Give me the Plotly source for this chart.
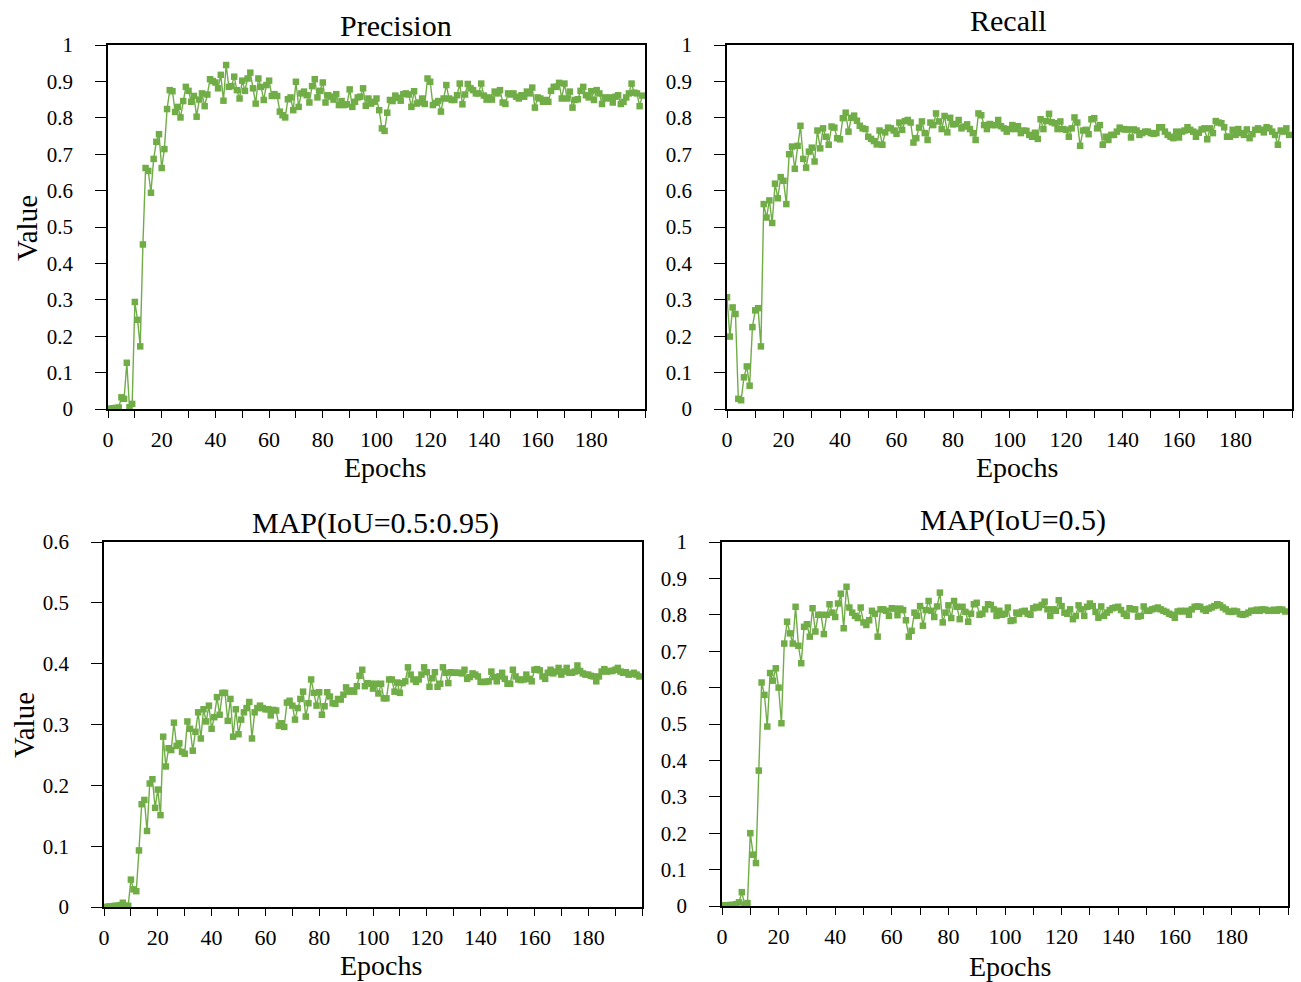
import plotly.graph_objects as go

epochs = list(range(200))

precision = [
    0.000, 0.001, 0.002, 0.003, 0.004, 0.032, 0.028, 0.127, 0.005, 0.014,
    0.294, 0.245, 0.172, 0.452, 0.662, 0.654, 0.594, 0.687, 0.734, 0.755,
    0.662, 0.714, 0.824, 0.876, 0.873, 0.816, 0.830, 0.801, 0.846, 0.885,
    0.874, 0.844, 0.860, 0.803, 0.850, 0.867, 0.832, 0.864, 0.906, 0.901,
    0.897, 0.881, 0.918, 0.847, 0.945, 0.885, 0.887, 0.913, 0.876, 0.853,
    0.902, 0.874, 0.908, 0.924, 0.881, 0.839, 0.908, 0.885, 0.849, 0.890,
    0.902, 0.860, 0.865, 0.860, 0.817, 0.807, 0.801, 0.851, 0.856, 0.821,
    0.899, 0.830, 0.867, 0.872, 0.862, 0.842, 0.887, 0.906, 0.856, 0.874,
    0.897, 0.842, 0.862, 0.858, 0.850, 0.865, 0.835, 0.846, 0.835, 0.837,
    0.878, 0.830, 0.844, 0.856, 0.858, 0.881, 0.833, 0.853, 0.839, 0.844,
    0.853, 0.821, 0.771, 0.764, 0.814, 0.849, 0.846, 0.861, 0.855, 0.847,
    0.865, 0.867, 0.864, 0.830, 0.873, 0.839, 0.842, 0.853, 0.838, 0.908,
    0.899, 0.835, 0.841, 0.846, 0.817, 0.853, 0.890, 0.853, 0.849, 0.849,
    0.862, 0.894, 0.837, 0.864, 0.893, 0.881, 0.876, 0.867, 0.867, 0.894,
    0.861, 0.850, 0.856, 0.850, 0.872, 0.867, 0.876, 0.842, 0.838, 0.867,
    0.864, 0.867, 0.858, 0.853, 0.862, 0.858, 0.872, 0.867, 0.883, 0.828,
    0.856, 0.853, 0.844, 0.849, 0.844, 0.874, 0.885, 0.885, 0.896, 0.853,
    0.894, 0.853, 0.872, 0.828, 0.849, 0.851, 0.874, 0.885, 0.862, 0.856,
    0.873, 0.849, 0.876, 0.867, 0.838, 0.856, 0.853, 0.856, 0.842, 0.858,
    0.862, 0.838, 0.844, 0.856, 0.867, 0.894, 0.869, 0.867, 0.832, 0.861,
]

recall = [
    0.307, 0.199, 0.279, 0.261, 0.028, 0.024, 0.087, 0.117, 0.064, 0.225,
    0.271, 0.277, 0.172, 0.563, 0.526, 0.573, 0.511, 0.619, 0.579, 0.637,
    0.627, 0.563, 0.700, 0.721, 0.660, 0.723, 0.778, 0.687, 0.663, 0.707,
    0.718, 0.680, 0.765, 0.716, 0.771, 0.748, 0.726, 0.776, 0.773, 0.744,
    0.741, 0.799, 0.814, 0.762, 0.800, 0.806, 0.792, 0.778, 0.771, 0.769,
    0.748, 0.742, 0.736, 0.727, 0.765, 0.726, 0.760, 0.773, 0.771, 0.765,
    0.756, 0.787, 0.767, 0.791, 0.794, 0.787, 0.732, 0.744, 0.773, 0.790,
    0.758, 0.739, 0.787, 0.780, 0.812, 0.790, 0.769, 0.805, 0.760, 0.800,
    0.782, 0.783, 0.794, 0.771, 0.776, 0.782, 0.769, 0.758, 0.739, 0.812,
    0.807, 0.780, 0.769, 0.783, 0.780, 0.780, 0.794, 0.777, 0.771, 0.762,
    0.769, 0.780, 0.769, 0.777, 0.758, 0.765, 0.764, 0.753, 0.748, 0.759,
    0.742, 0.796, 0.769, 0.791, 0.811, 0.788, 0.785, 0.769, 0.790, 0.769,
    0.767, 0.748, 0.771, 0.801, 0.787, 0.723, 0.765, 0.767, 0.755, 0.796,
    0.799, 0.771, 0.780, 0.726, 0.748, 0.739, 0.753, 0.753, 0.762, 0.773,
    0.769, 0.768, 0.768, 0.746, 0.768, 0.765, 0.753, 0.758, 0.762, 0.762,
    0.758, 0.756, 0.758, 0.774, 0.774, 0.762, 0.753, 0.748, 0.744, 0.762,
    0.746, 0.762, 0.765, 0.774, 0.767, 0.762, 0.748, 0.759, 0.768, 0.771,
    0.741, 0.771, 0.758, 0.791, 0.787, 0.785, 0.774, 0.748, 0.748, 0.767,
    0.753, 0.769, 0.758, 0.753, 0.768, 0.744, 0.755, 0.767, 0.771, 0.767,
    0.760, 0.774, 0.771, 0.762, 0.753, 0.726, 0.765, 0.762, 0.771, 0.753,
]

map_50_95 = [
    0.000, 0.000, 0.001, 0.001, 0.002, 0.002, 0.003, 0.007, 0.002, 0.002,
    0.045, 0.029, 0.026, 0.093, 0.169, 0.176, 0.125, 0.203, 0.210, 0.163,
    0.193, 0.151, 0.280, 0.231, 0.261, 0.258, 0.303, 0.265, 0.269, 0.255,
    0.252, 0.305, 0.293, 0.257, 0.288, 0.320, 0.277, 0.325, 0.305, 0.331,
    0.293, 0.312, 0.345, 0.316, 0.352, 0.352, 0.306, 0.342, 0.280, 0.325,
    0.284, 0.308, 0.320, 0.327, 0.337, 0.277, 0.320, 0.327, 0.331, 0.327,
    0.325, 0.325, 0.315, 0.324, 0.323, 0.298, 0.302, 0.296, 0.336, 0.339,
    0.331, 0.308, 0.327, 0.342, 0.354, 0.313, 0.335, 0.374, 0.352, 0.331,
    0.353, 0.316, 0.330, 0.353, 0.346, 0.335, 0.334, 0.342, 0.341, 0.349,
    0.361, 0.354, 0.356, 0.354, 0.363, 0.380, 0.390, 0.363, 0.368, 0.367,
    0.359, 0.367, 0.351, 0.367, 0.343, 0.343, 0.374, 0.374, 0.354, 0.369,
    0.352, 0.368, 0.371, 0.394, 0.382, 0.374, 0.370, 0.374, 0.382, 0.394,
    0.386, 0.362, 0.376, 0.386, 0.362, 0.367, 0.394, 0.385, 0.368, 0.386,
    0.385, 0.385, 0.385, 0.384, 0.390, 0.375, 0.378, 0.384, 0.382, 0.379,
    0.370, 0.370, 0.370, 0.371, 0.387, 0.378, 0.371, 0.379, 0.385, 0.375,
    0.367, 0.367, 0.390, 0.379, 0.374, 0.373, 0.374, 0.382, 0.375, 0.371,
    0.390, 0.391, 0.389, 0.379, 0.375, 0.385, 0.390, 0.384, 0.387, 0.393,
    0.382, 0.387, 0.393, 0.385, 0.385, 0.387, 0.397, 0.388, 0.384, 0.382,
    0.382, 0.380, 0.379, 0.371, 0.379, 0.387, 0.391, 0.387, 0.388, 0.388,
    0.390, 0.393, 0.387, 0.385, 0.386, 0.382, 0.383, 0.385, 0.382, 0.379,
]

map_50 = [
    0.002, 0.002, 0.002, 0.003, 0.003, 0.005, 0.010, 0.038, 0.004, 0.008,
    0.200, 0.141, 0.118, 0.372, 0.614, 0.580, 0.493, 0.640, 0.619, 0.653,
    0.600, 0.502, 0.721, 0.781, 0.749, 0.721, 0.822, 0.715, 0.667, 0.767,
    0.774, 0.740, 0.818, 0.754, 0.800, 0.800, 0.747, 0.800, 0.829, 0.806,
    0.794, 0.831, 0.858, 0.763, 0.877, 0.820, 0.806, 0.797, 0.791, 0.820,
    0.779, 0.772, 0.785, 0.811, 0.803, 0.740, 0.815, 0.815, 0.811, 0.797,
    0.818, 0.817, 0.799, 0.817, 0.813, 0.785, 0.740, 0.756, 0.806, 0.797,
    0.824, 0.770, 0.813, 0.838, 0.811, 0.794, 0.823, 0.861, 0.779, 0.806,
    0.826, 0.791, 0.838, 0.822, 0.788, 0.822, 0.808, 0.781, 0.803, 0.829,
    0.833, 0.800, 0.803, 0.815, 0.829, 0.827, 0.815, 0.797, 0.811, 0.800,
    0.803, 0.820, 0.783, 0.785, 0.806, 0.803, 0.809, 0.811, 0.803, 0.800,
    0.818, 0.822, 0.820, 0.827, 0.836, 0.815, 0.797, 0.815, 0.811, 0.840,
    0.824, 0.806, 0.803, 0.815, 0.788, 0.797, 0.826, 0.815, 0.797, 0.822,
    0.831, 0.824, 0.808, 0.792, 0.823, 0.797, 0.806, 0.813, 0.818, 0.820,
    0.822, 0.813, 0.803, 0.797, 0.818, 0.815, 0.815, 0.795, 0.797, 0.823,
    0.811, 0.811, 0.815, 0.817, 0.820, 0.815, 0.811, 0.808, 0.803, 0.800,
    0.792, 0.809, 0.811, 0.809, 0.811, 0.800, 0.815, 0.822, 0.823, 0.822,
    0.815, 0.811, 0.817, 0.820, 0.824, 0.829, 0.826, 0.820, 0.815, 0.809,
    0.808, 0.811, 0.809, 0.802, 0.800, 0.802, 0.806, 0.811, 0.811, 0.814,
    0.811, 0.815, 0.814, 0.811, 0.811, 0.814, 0.811, 0.815, 0.814, 0.809,
]

titles = ["Precision", "Recall", "MAP(IoU=0.5:0.95)", "MAP(IoU=0.5)"]
series = [precision, recall, map_50_95, map_50]
y_ranges = [[0, 1], [0, 1], [0, 0.6], [0, 1]]
x_tickvals = list(range(0, 200, 20))

W, H = 1301, 982
# plot-area pixel boxes in the page: (left, right, top, bottom)
boxes = [(108, 645, 45, 409), (727, 1292, 45, 409), (104, 642, 542, 907), (722, 1288, 542, 906)]
title_pos = [(396, 26), (1008, 21), (375, 523), (1013, 520)]
xlabel_pos = [(385, 467), (1017, 467), (381, 965), (1010, 966)]
ylabel_pos = [(27, 228), (24, 725)]


def px(x):
    return x / W


def py(y):
    return 1 - y / H


GREEN = "#70AD47"
FONT = "Liberation Serif"

fig = go.Figure()
layout = dict(
    width=W, height=H, margin=dict(l=0, r=0, t=0, b=0, autoexpand=False),
    paper_bgcolor="white", plot_bgcolor="white", showlegend=False,
    font=dict(family=FONT, color="black", size=22),
)
annotations = []
for i, (name, vals, yr, box) in enumerate(zip(titles, series, y_ranges, boxes)):
    n = "" if i == 0 else str(i + 1)
    fig.add_trace(go.Scatter(
        x=epochs, y=vals, mode="lines+markers", name=name,
        xaxis="x" + n, yaxis="y" + n,
        line=dict(color=GREEN, width=1.4),
        marker=dict(symbol="square", size=6.5, color=GREEN),
    ))
    l, r, t, b = box
    layout["xaxis" + n] = dict(
        domain=[px(l), px(r)], range=[0, 200], anchor="y" + n, automargin=False,
        tickvals=x_tickvals, ticktext=[str(v) for v in x_tickvals],
        ticks="outside", ticklen=7, tickwidth=1.3, tickcolor="black",
        minor=dict(dtick=10, tick0=0, ticks="outside", ticklen=7, tickwidth=1.3, tickcolor="black"),
        showline=True, linecolor="black", linewidth=1.5, mirror=True,
        showgrid=False, zeroline=False, tickfont=dict(size=22, family=FONT),
        ticklabelstandoff=3,
    )
    layout["yaxis" + n] = dict(
        domain=[py(b), py(t)], range=yr, anchor="x" + n, automargin=False,
        dtick=0.1, tick0=0, ticks="outside", ticklen=11, tickwidth=1.3, tickcolor="black",
        showline=True, linecolor="black", linewidth=1.5, mirror=True,
        showgrid=False, zeroline=False, tickfont=dict(size=21, family=FONT),
        ticklabelstandoff=18,
    )
    tx, ty = title_pos[i]
    annotations.append(dict(text=name, x=px(tx), y=py(ty), xref="paper", yref="paper",
                            xanchor="center", yanchor="middle",
                            showarrow=False, font=dict(size=30, family=FONT, color="black")))
    ex, ey = xlabel_pos[i]
    annotations.append(dict(text="Epochs", x=px(ex), y=py(ey), xref="paper", yref="paper",
                            xanchor="center", yanchor="middle", borderpad=0,
                            showarrow=False, font=dict(size=28, family=FONT, color="black")))
for vx, vy in ylabel_pos:
    annotations.append(dict(text="Value", x=px(vx), y=py(vy), xref="paper", yref="paper",
                            xanchor="center", yanchor="middle",
                            showarrow=False, textangle=-90,
                            font=dict(size=29, family=FONT, color="black")))
layout["annotations"] = annotations
fig.update_layout(**layout)
# remove the page's default body margin so the figure fills the window exactly
fig.write_html(
    "out.html",
    config={"displayModeBar": False},
    post_script="document.body.style.margin='0';document.body.style.overflow='hidden';",
)
